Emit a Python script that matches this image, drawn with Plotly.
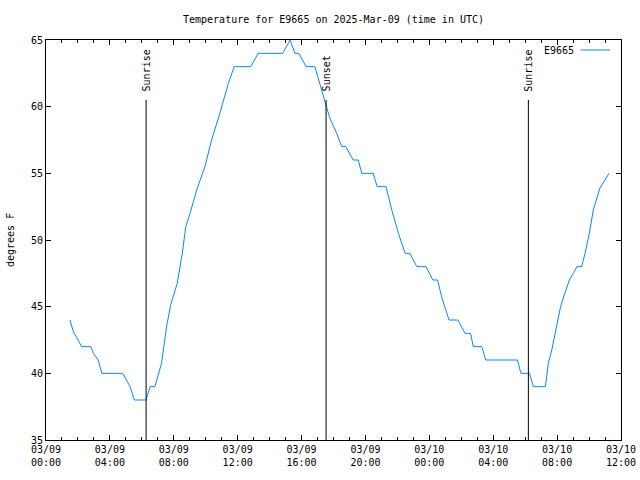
import plotly.graph_objects as go

# ---- data ----
times = [
    "2025-03-09 01:30", "2025-03-09 01:34", "2025-03-09 01:43", "2025-03-09 01:55", "2025-03-09 02:14",
    "2025-03-09 02:48", "2025-03-09 02:58", "2025-03-09 03:16", "2025-03-09 03:30", "2025-03-09 04:48",
    "2025-03-09 05:03", "2025-03-09 05:16", "2025-03-09 05:32", "2025-03-09 06:16", "2025-03-09 06:31",
    "2025-03-09 06:49", "2025-03-09 07:14", "2025-03-09 07:33", "2025-03-09 07:48", "2025-03-09 08:13",
    "2025-03-09 08:32", "2025-03-09 08:45", "2025-03-09 09:01", "2025-03-09 09:26", "2025-03-09 09:57",
    "2025-03-09 10:22", "2025-03-09 10:53", "2025-03-09 11:25", "2025-03-09 11:47", "2025-03-09 12:49",
    "2025-03-09 13:17", "2025-03-09 14:49", "2025-03-09 15:17", "2025-03-09 15:35", "2025-03-09 15:50",
    "2025-03-09 16:17", "2025-03-09 16:50", "2025-03-09 17:09", "2025-03-09 17:32", "2025-03-09 17:47",
    "2025-03-09 18:12", "2025-03-09 18:31", "2025-03-09 18:46", "2025-03-09 19:14", "2025-03-09 19:33",
    "2025-03-09 19:46", "2025-03-09 20:29", "2025-03-09 20:44", "2025-03-09 21:17", "2025-03-09 21:39",
    "2025-03-09 22:04", "2025-03-09 22:29", "2025-03-09 22:47", "2025-03-09 23:13", "2025-03-09 23:48",
    "2025-03-10 00:13", "2025-03-10 00:31", "2025-03-10 00:46", "2025-03-10 01:14", "2025-03-10 01:47",
    "2025-03-10 02:14", "2025-03-10 02:35", "2025-03-10 02:45", "2025-03-10 03:17", "2025-03-10 03:32",
    "2025-03-10 05:31", "2025-03-10 05:44", "2025-03-10 06:16", "2025-03-10 06:31", "2025-03-10 07:16",
    "2025-03-10 07:27", "2025-03-10 07:40", "2025-03-10 07:58", "2025-03-10 08:13", "2025-03-10 08:29",
    "2025-03-10 08:46", "2025-03-10 09:01", "2025-03-10 09:14", "2025-03-10 09:32", "2025-03-10 09:45",
    "2025-03-10 10:01", "2025-03-10 10:16", "2025-03-10 10:41", "2025-03-10 10:56", "2025-03-10 11:15",
]
temps = [
    44, 43.75, 43.1, 42.7, 42,
    42, 41.5, 41, 40, 40,
    39.4, 39, 38, 38, 39,
    39, 40.75, 43.5, 45.1, 46.75,
    49, 51, 52, 53.75, 55.5,
    57.5, 59.5, 61.75, 63, 63,
    64, 64, 65, 64, 64,
    63, 63, 61.6, 60.1, 59.1,
    58, 57, 57, 56, 56,
    55, 55, 54, 54, 52.25,
    50.5, 49, 49, 48, 48,
    47, 47, 45.75, 44, 44,
    43, 43, 42, 42, 41,
    41, 40, 40, 39, 39,
    40.75, 41.75, 43.5, 45, 46,
    47, 47.5, 48, 48, 49,
    50.5, 52.25, 53.9, 54.4, 55,
]
series_name = "E9665"

sun_times = ["2025-03-09 06:16", "2025-03-09 17:32", "2025-03-10 06:12"]
sun_labels = ["Sunrise", "Sunset", "Sunrise"]

tick_vals = ["2025-03-09 00:00", "2025-03-09 04:00", "2025-03-09 08:00", "2025-03-09 12:00",
             "2025-03-09 16:00", "2025-03-09 20:00", "2025-03-10 00:00", "2025-03-10 04:00",
             "2025-03-10 08:00", "2025-03-10 12:00"]
tick_text = ["03/09<br>00:00", "03/09<br>04:00", "03/09<br>08:00", "03/09<br>12:00",
             "03/09<br>16:00", "03/09<br>20:00", "03/10<br>00:00", "03/10<br>04:00",
             "03/10<br>08:00", "03/10<br>12:00"]
y_ticks = [35, 40, 45, 50, 55, 60, 65]

title_text = "Temperature for E9665 on 2025-Mar-09 (time in UTC)"
y_title = "degrees F"

FONT = "DejaVu Sans Mono"
BLUE = "#0a84ff"

fig = go.Figure()
fig.add_trace(go.Scatter(x=times, y=temps, mode="lines", name=series_name,
                         line=dict(color=BLUE, width=1), showlegend=False))

for t, lab in zip(sun_times, sun_labels):
    fig.add_shape(type="line", x0=t, x1=t, y0=35, y1=60.5, xref="x", yref="y",
                  line=dict(color="black", width=1))
    fig.add_annotation(x=t, y=61.0, xref="x", yref="y", text=lab, textangle=-90,
                       showarrow=False, xanchor="center", yanchor="bottom",
                       font=dict(family=FONT, size=10, color="black"))

# legend (text left, sample right, as in reference)
fig.add_annotation(x=0.922, y=0.975, xref="paper", yref="paper", text=series_name,
                   showarrow=False, xanchor="right", yanchor="middle",
                   font=dict(family=FONT, size=10, color="black"))
fig.add_shape(type="line", x0=0.930, x1=0.981, y0=0.975, y1=0.975, xref="paper", yref="paper",
              line=dict(color=BLUE, width=1))

fig.add_annotation(x=0, y=0.5, xref="paper", yref="paper", text=y_title, textangle=-90,
                   showarrow=False, xanchor="center", yanchor="middle", xshift=-36,
                   font=dict(family=FONT, size=10, color="black"))

fig.update_layout(
    width=640, height=480,
    margin=dict(l=46, r=19, t=40, b=40, autoexpand=False),
    paper_bgcolor="white", plot_bgcolor="white",
    font=dict(family=FONT, size=10, color="black"),
    title=dict(text=title_text, x=0.5, xref="paper", y=1 - 19 / 480, yref="container",
               xanchor="center", yanchor="middle", font=dict(family=FONT, size=10)),
    xaxis=dict(range=["2025-03-09 00:00", "2025-03-10 12:00"], tickmode="array",
               tickvals=tick_vals, ticktext=tick_text, ticks="inside", ticklen=5,
               tickcolor="black", showline=True, linecolor="black", linewidth=1,
               mirror="allticks", showgrid=False, zeroline=False, automargin=False,
               minor=dict(dtick=3600000, ticks="inside", ticklen=3, tickcolor="black", showgrid=False)),
    yaxis=dict(range=[35, 65], tickmode="array", tickvals=y_ticks, ticks="inside", ticklen=5,
               tickcolor="black", showline=True, linecolor="black", linewidth=1,
               mirror="allticks", showgrid=False, zeroline=False, automargin=False),
)

fig.write_html("out.html")
